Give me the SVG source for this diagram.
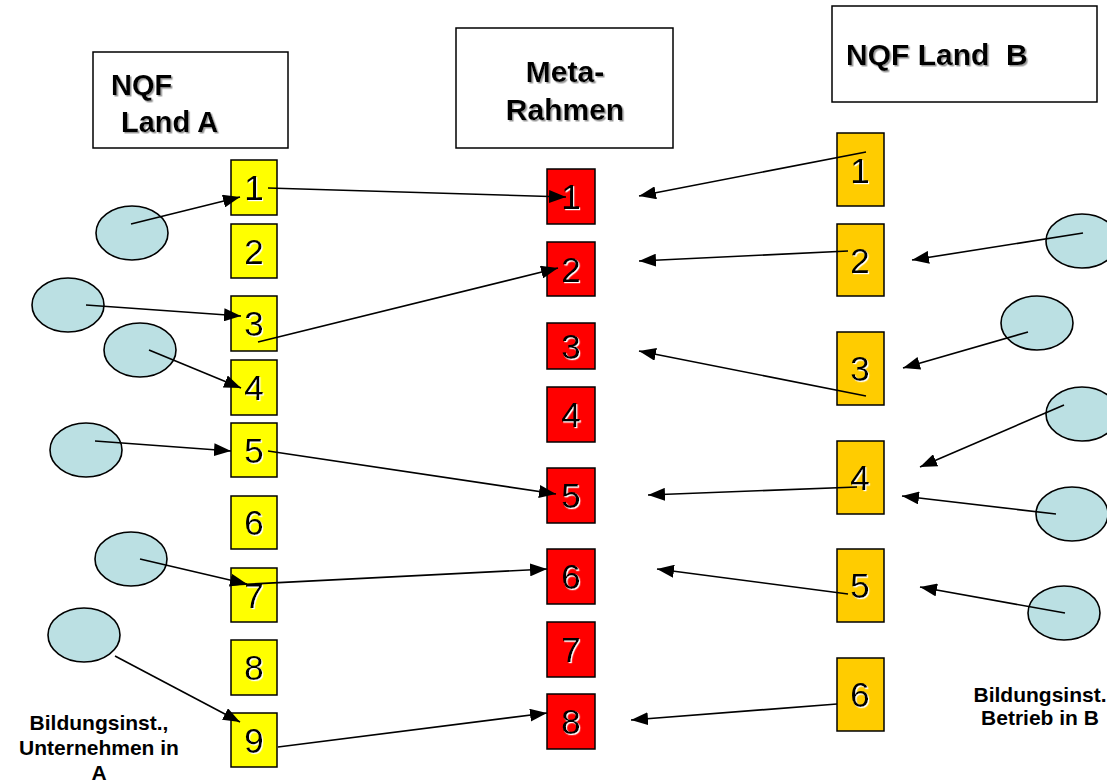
<svg xmlns="http://www.w3.org/2000/svg" width="1107" height="783" viewBox="0 0 1107 783">
<style>
.hdr{fill:#fff;stroke:#000;stroke-width:1.5}
.ya{fill:#FFFF00;stroke:#000;stroke-width:1.5}
.rm{fill:#FF0000;stroke:#000;stroke-width:1.5}
.ob{fill:#FFCC00;stroke:#000;stroke-width:1.5}
.el{fill:#BBE0E3;stroke:#000;stroke-width:1.6}
.ht{font-family:"Liberation Sans",Arial,sans-serif;font-weight:bold;fill:#000;filter:url(#sh)}
.dg{font-family:"Liberation Sans",Arial,sans-serif;font-size:35px;fill:#000;text-anchor:middle;filter:url(#wsh)}
.lb{font-family:"Liberation Sans",Arial,sans-serif;font-weight:bold;font-size:21px;fill:#000;text-anchor:middle}
.cn line{stroke:#000;stroke-width:1.6;marker-end:url(#ah)}
</style>
<defs>
<filter id="sh" x="-10%" y="-20%" width="130%" height="150%"><feDropShadow dx="1.5" dy="1.5" stdDeviation="0.6" flood-color="#999"/></filter>
<filter id="wsh" x="-20%" y="-20%" width="150%" height="150%"><feDropShadow dx="1.2" dy="1.2" stdDeviation="0.3" flood-color="#fff"/></filter>
<marker id="ah" markerUnits="userSpaceOnUse" markerWidth="17" markerHeight="13" refX="17" refY="6.5" orient="auto"><path d="M0,0 L17,6.5 L0,13 z" fill="#000"/></marker>
</defs>
<rect width="1107" height="783" fill="#fff"/>

<g id="hdrA"><rect class="hdr" x="93" y="52" width="195" height="96"/><text class="ht" x="111" y="95" font-size="29">NQF</text><text class="ht" x="121" y="132" font-size="29">Land A</text></g>
<g id="hdrM"><rect class="hdr" x="456" y="28" width="217" height="120"/><text class="ht" x="565" y="82" font-size="30" text-anchor="middle">Meta-</text><text class="ht" x="565" y="120" font-size="30" text-anchor="middle">Rahmen</text></g>
<g id="hdrB"><rect class="hdr" x="832" y="6" width="265" height="96"/><text class="ht" x="846" y="65" font-size="30" xml:space="preserve">NQF Land  B</text></g>

<g id="ellipsesA">
<g id="ea1"><ellipse class="el" cx="132" cy="233" rx="36" ry="27"/></g>
<g id="ea3"><ellipse class="el" cx="68" cy="305" rx="36" ry="27"/></g>
<g id="ea4"><ellipse class="el" cx="140" cy="350" rx="36" ry="27"/></g>
<g id="ea5"><ellipse class="el" cx="86" cy="450" rx="36" ry="27"/></g>
<g id="ea7"><ellipse class="el" cx="131" cy="559" rx="36" ry="27"/></g>
<g id="ea9"><ellipse class="el" cx="84" cy="635" rx="36" ry="27"/></g>
</g>
<g id="ellipsesB">
<g id="eb2"><ellipse class="el" cx="1082" cy="241" rx="36" ry="27"/></g>
<g id="eb3"><ellipse class="el" cx="1037" cy="323" rx="36" ry="27"/></g>
<g id="eb4a"><ellipse class="el" cx="1082" cy="414" rx="36" ry="27"/></g>
<g id="eb4b"><ellipse class="el" cx="1072" cy="514" rx="36" ry="27"/></g>
<g id="eb5"><ellipse class="el" cx="1064" cy="613" rx="36" ry="27"/></g>
</g>

<g id="colA">
<g id="a1"><rect class="ya" x="231" y="160" width="46" height="55"/><text class="dg" x="254" y="200">1</text></g>
<g id="a2"><rect class="ya" x="231" y="224" width="46" height="54"/><text class="dg" x="254" y="264">2</text></g>
<g id="a3"><rect class="ya" x="231" y="296" width="46" height="55"/><text class="dg" x="254" y="336">3</text></g>
<g id="a4"><rect class="ya" x="231" y="360" width="46" height="55"/><text class="dg" x="254" y="400">4</text></g>
<g id="a5"><rect class="ya" x="231" y="423" width="46" height="54"/><text class="dg" x="254" y="463">5</text></g>
<g id="a6"><rect class="ya" x="231" y="496" width="46" height="53"/><text class="dg" x="254" y="535">6</text></g>
<g id="a7"><rect class="ya" x="231" y="568" width="46" height="54"/><text class="dg" x="254" y="608">7</text></g>
<g id="a8"><rect class="ya" x="231" y="640" width="46" height="55"/><text class="dg" x="254" y="680">8</text></g>
<g id="a9"><rect class="ya" x="231" y="713" width="46" height="54"/><text class="dg" x="254" y="753">9</text></g>
</g>

<g id="colM">
<g id="m1"><rect class="rm" x="547" y="169" width="48" height="55"/><text class="dg" x="571" y="209">1</text></g>
<g id="m2"><rect class="rm" x="547" y="242" width="48" height="54"/><text class="dg" x="571" y="282">2</text></g>
<g id="m3"><rect class="rm" x="547" y="323" width="48" height="46"/><text class="dg" x="571" y="359">3</text></g>
<g id="m4"><rect class="rm" x="547" y="387" width="48" height="55"/><text class="dg" x="571" y="427">4</text></g>
<g id="m5"><rect class="rm" x="547" y="468" width="48" height="55"/><text class="dg" x="571" y="508">5</text></g>
<g id="m6"><rect class="rm" x="547" y="549" width="48" height="55"/><text class="dg" x="571" y="589">6</text></g>
<g id="m7"><rect class="rm" x="547" y="622" width="48" height="55"/><text class="dg" x="571" y="662">7</text></g>
<g id="m8"><rect class="rm" x="547" y="694" width="48" height="55"/><text class="dg" x="571" y="734">8</text></g>
</g>

<g id="colB">
<g id="b1"><rect class="ob" x="837" y="133" width="47" height="73"/><text class="dg" x="860" y="183">1</text></g>
<g id="b2"><rect class="ob" x="837" y="224" width="47" height="72"/><text class="dg" x="860" y="273">2</text></g>
<g id="b3"><rect class="ob" x="837" y="332" width="47" height="73"/><text class="dg" x="860" y="381">3</text></g>
<g id="b4"><rect class="ob" x="837" y="441" width="47" height="73"/><text class="dg" x="860" y="490">4</text></g>
<g id="b5"><rect class="ob" x="837" y="549" width="47" height="73"/><text class="dg" x="860" y="598">5</text></g>
<g id="b6"><rect class="ob" x="837" y="658" width="47" height="73"/><text class="dg" x="860" y="707">6</text></g>
</g>

<g id="labels">
<text class="lb" x="99" y="730">Bildungsinst.,</text>
<text class="lb" x="99" y="755">Unternehmen in</text>
<text class="lb" x="99" y="780">A</text>
<text class="lb" x="1040" y="702">Bildungsinst.</text>
<text class="lb" x="1040" y="725">Betrieb in B</text>
</g>

<g id="connectors" class="cn">
<line x1="131" y1="224" x2="240" y2="197"/>
<line x1="86" y1="305" x2="241" y2="316"/>
<line x1="149" y1="350" x2="241" y2="388"/>
<line x1="95" y1="441" x2="231" y2="451"/>
<line x1="140" y1="559" x2="247" y2="584"/>
<line x1="115" y1="656" x2="240" y2="722"/>
<line x1="268" y1="188" x2="566" y2="197"/>
<line x1="258" y1="342" x2="558" y2="268"/>
<line x1="268" y1="451" x2="556" y2="494"/>
<line x1="231" y1="585" x2="547" y2="569"/>
<line x1="278" y1="747" x2="547" y2="713"/>
<line x1="866" y1="152" x2="639" y2="196"/>
<line x1="848" y1="251" x2="639" y2="261"/>
<line x1="866" y1="396" x2="639" y2="351"/>
<line x1="857" y1="487" x2="648" y2="495"/>
<line x1="848" y1="594" x2="657" y2="569"/>
<line x1="837" y1="704" x2="631" y2="720"/>
<line x1="1083" y1="233" x2="912" y2="260"/>
<line x1="1028" y1="332" x2="903" y2="368"/>
<line x1="1064" y1="405" x2="920" y2="467"/>
<line x1="1056" y1="514" x2="902" y2="496"/>
<line x1="1065" y1="613" x2="920" y2="587"/>
</g>
</svg>
